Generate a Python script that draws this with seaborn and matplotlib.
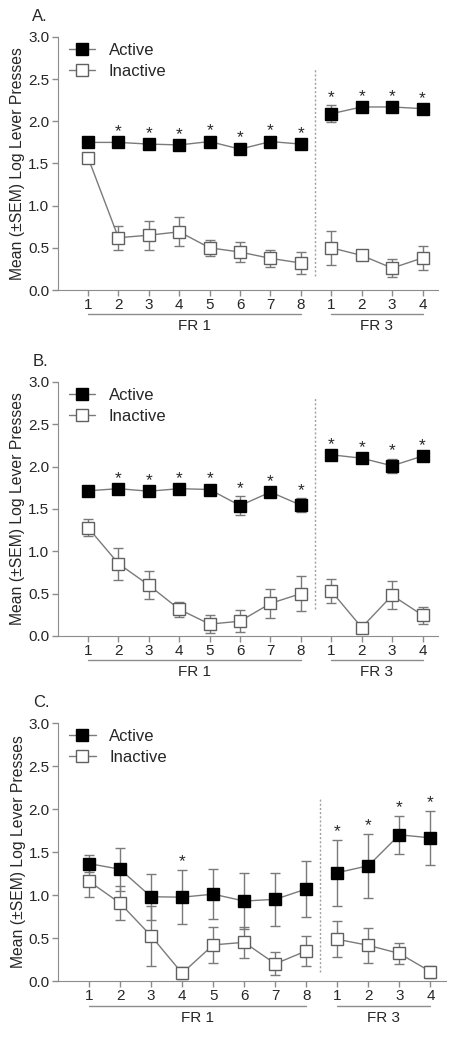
import numpy as np
import pandas as pd
import seaborn as sns
import matplotlib.pyplot as plt
from matplotlib.lines import Line2D

sns.set_style("ticks")
plt.rcParams['font.family'] = ['Liberation Sans', 'DejaVu Sans']

## Data
session_labels = ["1", "2", "3", "4", "5", "6", "7", "8", "1", "2", "3", "4"]
phase = ["FR 1"] * 8 + ["FR 3"] * 4

# Panel A
A_active_mean = [1.75, 1.75, 1.73, 1.72, 1.76, 1.67, 1.76, 1.73, 2.09, 2.17, 2.17, 2.15]
A_active_sem = [0.03, 0.03, 0.03, 0.03, 0.03, 0.04, 0.03, 0.03, 0.10, 0.03, 0.03, 0.03]
A_inactive_mean = [1.57, 0.62, 0.65, 0.69, 0.50, 0.45, 0.375, 0.32, 0.50, 0.41, 0.26, 0.38]
A_inactive_sem = [0.03, 0.14, 0.17, 0.17, 0.095, 0.12, 0.10, 0.135, 0.20, 0.05, 0.11, 0.14]
A_sig = [0, 1, 1, 1, 1, 1, 1, 1, 1, 1, 1, 1]

# Panel B
B_active_mean = [1.715, 1.74, 1.71, 1.74, 1.73, 1.54, 1.70, 1.545, 2.14, 2.10, 2.01, 2.125]
B_active_sem = [0.03, 0.03, 0.03, 0.03, 0.03, 0.11, 0.03, 0.08, 0.03, 0.03, 0.085, 0.03]
B_inactive_mean = [1.28, 0.855, 0.60, 0.315, 0.14, 0.175, 0.385, 0.50, 0.53, 0.10, 0.48, 0.245]
B_inactive_sem = [0.10, 0.19, 0.165, 0.085, 0.105, 0.13, 0.17, 0.205, 0.14, 0.03, 0.165, 0.10]
B_sig = [0, 1, 1, 1, 1, 1, 1, 1, 1, 1, 1, 1]

# Panel C
C_active_mean = [1.365, 1.30, 0.98, 0.975, 1.01, 0.93, 0.95, 1.07, 1.26, 1.34, 1.70, 1.665]
C_active_sem = [0.095, 0.25, 0.27, 0.315, 0.29, 0.33, 0.31, 0.33, 0.385, 0.37, 0.22, 0.315]
C_inactive_mean = [1.16, 0.905, 0.525, 0.09, 0.42, 0.45, 0.20, 0.35, 0.485, 0.415, 0.32, 0.11]
C_inactive_sem = [0.185, 0.20, 0.35, 0.07, 0.205, 0.18, 0.135, 0.175, 0.21, 0.20, 0.125, 0.07]
C_sig = [0, 0, 0, 1, 0, 0, 0, 0, 1, 1, 1, 1]

grey = "#7a7a7a"
axis_grey = "#8c8c8c"

fig = plt.figure(figsize=(4.58, 10.5), dpi=100)

panels = [
    ("A.", [0.1258, 0.7238, 0.830, 0.241], (0.17, 2.63), A_active_mean, A_active_sem, A_inactive_mean, A_inactive_sem, A_sig),
    ("B.", [0.1258, 0.3943, 0.830, 0.2419], (0.32, 2.81), B_active_mean, B_active_sem, B_inactive_mean, B_inactive_sem, B_sig),
    ("C.", [0.1266, 0.0657, 0.847, 0.2457], (0.10, 2.14), C_active_mean, C_active_sem, C_inactive_mean, C_inactive_sem, C_sig),
]

for letter, rect, vspan, act_m, act_e, ina_m, ina_e, sig in panels:
    ax = fig.add_axes(rect)
    pos = np.arange(1, len(session_labels) + 1)
    df = pd.DataFrame({"pos": pos, "phase": phase,
                       "Active": act_m, "Inactive": ina_m,
                       "Active_sem": act_e, "Inactive_sem": ina_e})

    # dotted separator between FR 1 and FR 3
    ymin, ymax = vspan
    ax.plot([8.45, 8.45], [ymin, ymax], color="#a0a0a0", lw=1, ls=(0, (1.5, 1.5)))

    for group, face, edge, z in [("Inactive", "white", "#606060", 3), ("Active", "black", "black", 4)]:
        for ph in ["FR 1", "FR 3"]:
            sub = df[df.phase == ph]
            ax.errorbar(sub.pos, sub[group], yerr=sub[group + "_sem"], fmt="none",
                        ecolor=grey, elinewidth=1, capsize=3.5, capthick=1, zorder=z - 1)
            sns.lineplot(data=sub, x="pos", y=group, ax=ax, color=grey, lw=1,
                         marker="s", markersize=8, markerfacecolor=face,
                         markeredgecolor=edge, markeredgewidth=1, errorbar=None,
                         legend=False, zorder=z)

    # significance stars above active means
    for p, m, e, s in zip(pos, act_m, act_e, sig):
        if s:
            ax.annotate("*", xy=(p, m + e), xytext=(0, 2.5), textcoords="offset points",
                        ha="center", va="baseline", fontsize=12.5)

    ax.set_xlim(0, 12.5)
    ax.set_ylim(0, 3.0)
    ax.set_yticks(np.arange(0, 3.01, 0.5))
    ax.set_yticklabels([f"{v:.1f}" for v in np.arange(0, 3.01, 0.5)])
    ax.set_xticks(pos)
    ax.set_xticklabels(session_labels)
    ax.set(xlabel=None)
    ax.set_ylabel("Mean (±SEM) Log Lever Presses", fontsize=11.3, labelpad=2)
    ax.tick_params(axis="both", labelsize=11, color=axis_grey, width=1, length=4, pad=2)
    ax.spines.right.set_visible(False)
    ax.spines.top.set_visible(False)
    ax.spines.left.set_color(axis_grey)
    ax.spines.bottom.set_color(axis_grey)

    # phase brackets under the tick labels
    tr = ax.get_xaxis_transform()
    for ph, lo, hi in [("FR 1", 1, 8), ("FR 3", 9, 12)]:
        ax.plot([lo, hi], [-0.095, -0.095], transform=tr, color=axis_grey, lw=1, clip_on=False)
        ax.text((lo + hi) / 2, -0.142, ph, transform=tr, ha="center", va="center", fontsize=11)

    handles = [
        Line2D([0], [0], color=grey, lw=1, marker="s", markersize=8,
               markerfacecolor="black", markeredgecolor="black"),
        Line2D([0], [0], color=grey, lw=1, marker="s", markersize=8,
               markerfacecolor="white", markeredgecolor="#606060"),
    ]
    ax.legend(handles, ["Active", "Inactive"], loc="upper left", bbox_to_anchor=(-0.01, 1.035),
              frameon=False, fontsize=12, handlelength=1.6, handletextpad=0.8, labelspacing=0.35)

    fig.text(rect[0] - 0.055, rect[1] + rect[3] + 0.012, letter, fontsize=12, va="bottom")

plt.savefig("out.png", dpi=100)
plt.close()
